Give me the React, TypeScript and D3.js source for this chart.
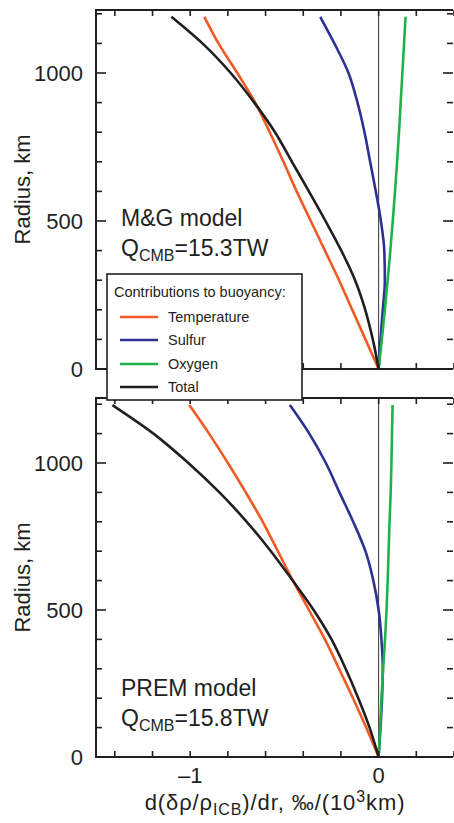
import * as d3 from 'd3';

// radius (km) sampling for each model
const RADII_MG = [0, 100, 200, 300, 400, 500, 600, 700, 800, 900, 1000, 1100, 1190];
const RADII_PREM = [0, 100, 200, 300, 400, 500, 600, 700, 800, 900, 1000, 1100, 1197];

// d(δρ/ρICB)/dr in ‰/(10^3 km), M&G model
const MG_TEMPERATURE = [0, -0.07, -0.14, -0.21, -0.285, -0.36, -0.435, -0.505, -0.578, -0.655, -0.75, -0.85, -0.925];
const MG_SULFUR = [0, 0.01, 0.022, 0.033, 0.03, 0.012, -0.015, -0.045, -0.075, -0.112, -0.16, -0.235, -0.31];
const MG_OXYGEN = [0, 0.017, 0.033, 0.048, 0.062, 0.075, 0.087, 0.098, 0.108, 0.117, 0.126, 0.135, 0.143];
const MG_TOTAL = [0, -0.031, -0.071, -0.125, -0.198, -0.282, -0.37, -0.46, -0.55, -0.66, -0.785, -0.935, -1.1];

// PREM model
const PREM_TEMPERATURE = [0, -0.066, -0.136, -0.21, -0.285, -0.37, -0.455, -0.535, -0.615, -0.705, -0.8, -0.9, -1.005];
const PREM_SULFUR = [0, 0.01, 0.018, 0.022, 0.015, 0.0, -0.028, -0.07, -0.135, -0.208, -0.28, -0.368, -0.471];
const PREM_OXYGEN = [0, 0.008, 0.015, 0.024, 0.034, 0.042, 0.048, 0.053, 0.058, 0.064, 0.068, 0.071, 0.074];
const PREM_TOTAL = [0, -0.048, -0.108, -0.175, -0.25, -0.345, -0.456, -0.572, -0.7, -0.845, -1.01, -1.195, -1.413];

const SERIES = ['Temperature', 'Sulfur', 'Oxygen', 'Total'];
const COLORS = ['#f15a24', '#2e3192', '#1fb24a', '#231f20'];
const Y_TICKS = [0, 100, 200, 300, 400, 500, 600, 700, 800, 900, 1000, 1100, 1200];
const Y_LABELS = [0, 500, 1000];
const X_TICKS = [-1.4, -1.2, -1.0, -0.8, -0.6, -0.4, -0.2, 0, 0.2, 0.4];
const X_LABELS = [-1, 0];

const FONT = '"Liberation Sans", Arial, Helvetica, sans-serif';

const x = d3.scaleLinear().domain([-1.5, 0.4]).range([96, 454]);

type PanelProps = {
  radii: number[];
  values: number[][];
  y0: number;
  y1000: number;
  rMax: number;
  name: string;
  q: string;
  textY: number;
  showX: boolean;
};

const Panel = ({ radii, values, y0, y1000, rMax, name, q, textY, showX }: PanelProps) => {
  const y = d3.scaleLinear().domain([0, 1000]).range([y0, y1000]);
  const top = y(rMax);
  const left = x.range()[0];
  const right = 453;
  const line = d3
    .line<number>()
    .x((d) => x(d))
    .y((d, i) => y(radii[i]))
    .curve(d3.curveMonotoneY);

  return (
    <g>
      <line x1={x(0)} x2={x(0)} y1={top} y2={y0} stroke="#333" strokeWidth={1} />
      {values.map((v, i) => (
        <path key={SERIES[i]} d={line(v) || ''} fill="none" stroke={COLORS[i]} strokeWidth={2.6} />
      ))}
      {/* frame */}
      <path
        d={`M${right},${top}H${left}V${y0}H${right}`}
        fill="none"
        stroke="#231f20"
        strokeWidth={2}
      />
      {Y_TICKS.map((t) => {
        const len = t % 500 === 0 ? 10 : 6;
        return (
          <g key={'y' + t}>
            <line x1={left} x2={left + len} y1={y(t)} y2={y(t)} stroke="#231f20" strokeWidth={1.6} />
            <line x1={right} x2={right - len} y1={y(t)} y2={y(t)} stroke="#231f20" strokeWidth={1.6} />
          </g>
        );
      })}
      {X_TICKS.map((t) => (
        <g key={'x' + t}>
          <line x1={x(t)} x2={x(t)} y1={top} y2={top + 6} stroke="#231f20" strokeWidth={1.6} />
          <line x1={x(t)} x2={x(t)} y1={y0} y2={y0 - 6} stroke="#231f20" strokeWidth={1.6} />
        </g>
      ))}
      {Y_LABELS.map((t) => (
        <text key={'yl' + t} x={83} y={y(t)} dy="0.36em" textAnchor="end" fontSize={22} fill="#231f20">
          {t}
        </text>
      ))}
      {showX &&
        X_LABELS.map((t) => (
          <text key={'xl' + t} x={x(t)} y={y0 + 26} textAnchor="middle" fontSize={22} fill="#231f20">
            {t < 0 ? '\u2013' + Math.abs(t) : t}
          </text>
        ))}
      <text
        transform={`translate(30,${(top + y0) / 2}) rotate(-90)`}
        textAnchor="middle"
        fontSize={22}
        fill="#231f20"
      >
        Radius, km
      </text>
      <text x={121} y={textY} fontSize={23} fill="#231f20">
        {name}
      </text>
      <text x={121} y={textY + 30} fontSize={23} fill="#231f20">
        Q<tspan fontSize={16} dy={5}>CMB</tspan>
        <tspan dy={-5}>={q}</tspan>
      </text>
    </g>
  );
};

const Legend = () => {
  const ys = [317, 340, 364, 387];
  return (
    <g>
      <rect x={107} y={274} width={195} height={126} fill="#fff" stroke="#231f20" strokeWidth={1.6} />
      <text x={114} y={297} fontSize={14.5} fill="#231f20">
        Contributions to buoyancy:
      </text>
      {SERIES.map((s, i) => (
        <g key={s}>
          <line x1={120} x2={158} y1={ys[i]} y2={ys[i]} stroke={COLORS[i]} strokeWidth={2.6} />
          <text x={168} y={ys[i]} dy="0.35em" fontSize={14.5} fill="#231f20">
            {s}
          </text>
        </g>
      ))}
    </g>
  );
};

export default function App() {
  return (
    <svg
      width={454}
      height={823}
      style={{ position: 'absolute', left: 0, top: 0, background: '#fff' }}
      fontFamily={FONT}
    >
      <Panel
        radii={RADII_MG}
        values={[MG_TEMPERATURE, MG_SULFUR, MG_OXYGEN, MG_TOTAL]}
        y0={369}
        y1000={73}
        rMax={1213}
        name="M&G model"
        q="15.3TW"
        textY={226}
        showX={false}
      />
      <Panel
        radii={RADII_PREM}
        values={[PREM_TEMPERATURE, PREM_SULFUR, PREM_OXYGEN, PREM_TOTAL]}
        y0={757}
        y1000={463}
        rMax={1221}
        name="PREM model"
        q="15.8TW"
        textY={696}
        showX={true}
      />
      <Legend />
      <text x={275} y={810} textAnchor="middle" fontSize={22} letterSpacing={0.9} fill="#231f20">
        d(δρ/ρ<tspan fontSize={16} dy={5}>ICB</tspan>
        <tspan dy={-5}>)/dr, ‰/(10</tspan>
        <tspan fontSize={16} dy={-8}>3</tspan>
        <tspan dy={8}>km)</tspan>
      </text>
    </svg>
  );
}
